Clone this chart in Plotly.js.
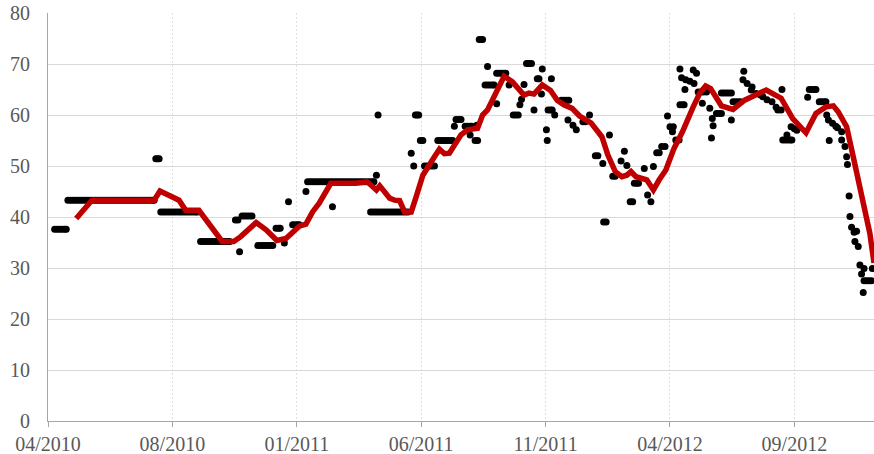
<!DOCTYPE html>
<html>
<head>
<meta charset="utf-8">
<script src="https://cdn.plot.ly/plotly-3.0.1.min.js"></script>
<style>html,body{margin:0;padding:0;background:#fff;}#chart{width:874px;height:454px;}</style>
</head>
<body>
<div id="chart"></div>
<script>
// Daily observations (black dots)
const dotDates = [
  '2010-04-09','2010-04-12','2010-04-15','2010-04-18','2010-04-21','2010-04-23',
  '2010-04-25','2010-04-28','2010-05-01','2010-05-04','2010-05-07','2010-05-10','2010-05-13','2010-05-16','2010-05-19','2010-05-22','2010-05-25','2010-05-28',
  '2010-05-31','2010-06-03','2010-06-06','2010-06-09','2010-06-12','2010-06-15','2010-06-18','2010-06-21','2010-06-24','2010-06-27','2010-06-30','2010-07-03',
  '2010-07-06','2010-07-09','2010-07-12','2010-07-15','2010-07-18','2010-07-21','2010-07-24','2010-07-27','2010-07-30','2010-08-02','2010-08-05','2010-08-07',
  '2010-08-09','2010-08-11','2010-08-13',
  '2010-08-15','2010-08-18','2010-08-21','2010-08-24','2010-08-27','2010-08-30','2010-09-02','2010-09-05',
  '2010-09-08','2010-09-11','2010-09-14','2010-09-17','2010-09-20','2010-09-23','2010-09-26','2010-09-28',
  '2010-10-02','2010-10-05','2010-10-08','2010-10-11','2010-10-14','2010-10-17','2010-10-20','2010-10-23','2010-10-26','2010-10-29','2010-11-01','2010-11-04','2010-11-06',
  '2010-11-13','2010-11-16','2010-11-18',
  '2010-11-21','2010-11-24','2010-11-27','2010-11-30','2010-12-03',
  '2010-12-10','2010-12-13','2010-12-16','2010-12-19','2010-12-22','2010-12-25','2010-12-28',
  '2011-01-01','2011-01-04','2011-01-06','2011-01-11','2011-01-16',
  '2011-01-21','2011-01-24','2011-01-27','2011-01-29','2011-02-06',
  '2011-02-08','2011-02-11','2011-02-14','2011-02-17','2011-02-20','2011-02-23','2011-02-26','2011-03-01','2011-03-04','2011-03-07','2011-03-10','2011-03-13','2011-03-16','2011-03-19',
  '2011-03-22','2011-03-25','2011-03-28','2011-03-31','2011-04-03','2011-04-06','2011-04-09','2011-04-12','2011-04-15','2011-04-18','2011-04-21','2011-04-24','2011-04-27','2011-04-29',
  '2011-03-10','2011-05-02','2011-05-04',
  '2011-04-25','2011-04-28','2011-05-01','2011-05-04','2011-05-07','2011-05-10','2011-05-13','2011-05-16',
  '2011-05-19','2011-05-22','2011-05-25','2011-05-28','2011-05-31','2011-06-03','2011-06-06','2011-06-09',
  '2011-06-13','2011-06-16','2011-06-18','2011-06-20','2011-06-22','2011-06-24','2011-06-27',
  '2011-06-29','2011-07-02','2011-07-05','2011-07-08','2011-07-11',
  '2011-07-15','2011-07-18','2011-07-21','2011-07-24','2011-07-27','2011-07-30','2011-08-02',
  '2011-08-04','2011-08-06','2011-08-09','2011-08-12',
  '2011-08-17','2011-08-20','2011-08-23','2011-08-25','2011-08-23','2011-08-29','2011-09-01','2011-08-31',
  '2011-09-03','2011-09-05','2011-09-07','2011-09-13',
  '2011-09-10','2011-09-13','2011-09-16','2011-09-19','2011-09-21',
  '2011-09-24','2011-09-27','2011-09-30','2011-10-03','2011-10-05','2011-09-24','2011-10-09',
  '2011-10-14','2011-10-17','2011-10-20','2011-10-22','2011-10-24','2011-10-27',
  '2011-10-30','2011-11-01','2011-11-03','2011-11-05',
  '2011-11-08','2011-11-12','2011-11-14','2011-11-17','2011-11-18',
  '2011-11-23','2011-11-24','2011-11-25','2011-11-28','2011-11-30','2011-11-29','2011-12-03',
  '2011-12-11','2011-12-14','2011-12-17','2011-12-20','2011-12-19','2011-12-25','2011-12-29',
  '2012-01-06','2012-01-09','2012-01-14','2012-01-21','2012-01-24','2012-01-30',
  '2012-01-31','2012-02-03','2012-02-07','2012-02-11','2012-02-14',
  '2012-02-21','2012-02-25','2012-02-28','2012-03-03','2012-03-06','2012-03-08','2012-03-11','2012-03-13',
  '2012-03-20','2012-03-24','2012-03-28','2012-03-31',
  '2012-04-04','2012-04-07','2012-04-10','2012-04-14','2012-04-17',
  '2012-04-20','2012-04-24','2012-04-23','2012-04-27','2012-05-01',
  '2012-05-02','2012-05-05','2012-05-07','2012-05-02',
  '2012-05-04','2012-05-09','2012-05-14','2012-05-19','2012-05-08',
  '2012-05-18','2012-05-22','2012-05-24','2012-05-27','2012-05-30','2012-06-03',
  '2012-05-29','2012-06-07','2012-06-09','2012-06-10','2012-06-11',
  '2012-06-15','2012-06-18','2012-06-21','2012-06-21','2012-06-24','2012-06-27','2012-06-30','2012-07-03','2012-07-03',
  '2012-07-05','2012-07-08','2012-07-11','2012-07-14','2012-07-18',
  '2012-07-17','2012-07-22','2012-07-28',
  '2012-07-27','2012-08-02','2012-08-07',
  '2012-08-10','2012-08-15','2012-08-21','2012-08-26',
  '2012-09-02','2012-08-28','2012-09-01',
  '2012-09-03','2012-09-06','2012-09-09','2012-09-12','2012-09-14','2012-09-08','2012-09-13','2012-09-17','2012-09-20',
  '2012-10-05','2012-10-08','2012-10-11','2012-10-13','2012-10-03',
  '2012-10-17','2012-10-20','2012-10-23','2012-10-25','2012-10-26',
  '2012-10-28','2012-11-02','2012-11-06','2012-10-29',
  '2012-11-08','2012-11-13','2012-11-13','2012-11-17',
  '2012-11-19','2012-11-20','2012-11-22','2012-11-23',
  '2012-11-25','2012-11-28','2012-12-01','2012-11-29','2012-12-03',
  '2012-12-05','2012-12-10','2012-12-07','2012-12-09',
  '2012-12-10','2012-12-13','2012-12-16','2012-12-19','2012-12-20'
];
const dotValues = [
  37.6,37.6,37.6,37.6,37.6,37.6,
  43.3,43.3,43.3,43.3,43.3,43.3,43.3,43.3,43.3,43.3,43.3,43.3,
  43.3,43.3,43.3,43.3,43.3,43.3,43.3,43.3,43.3,43.3,43.3,43.3,
  43.3,43.3,43.3,43.3,43.3,43.3,43.3,43.3,43.3,43.3,43.3,43.3,
  51.4,51.4,51.4,
  41.0,41.0,41.0,41.0,41.0,41.0,41.0,41.0,
  41.0,41.0,41.0,41.0,41.0,41.0,41.0,41.0,
  35.2,35.2,35.2,35.2,35.2,35.2,35.2,35.2,35.2,35.2,35.2,35.2,35.2,
  39.4,39.4,33.2,
  40.2,40.2,40.2,40.2,40.2,
  34.4,34.4,34.4,34.4,34.4,34.4,34.4,
  37.8,37.8,37.8,34.9,43.0,
  38.5,38.5,38.5,38.5,45.0,
  46.9,46.9,46.9,46.9,46.9,46.9,46.9,46.9,46.9,46.9,46.9,46.9,46.9,46.9,
  46.9,46.9,46.9,46.9,46.9,46.9,46.9,46.9,46.9,46.9,46.9,46.9,46.9,46.9,
  42.0,48.2,60.0,
  41.0,41.0,41.0,41.0,41.0,41.0,41.0,41.0,
  41.0,41.0,41.0,41.0,41.0,41.0,41.0,41.0,
  52.5,50.0,60.0,60.0,60.0,55.0,55.0,
  50.0,50.0,50.0,50.0,50.0,
  55.0,55.0,55.0,55.0,55.0,55.0,55.0,
  57.8,59.1,59.1,59.1,
  57.8,57.8,57.8,57.8,56.1,55.0,55.0,58.0,
  74.8,74.8,74.8,69.5,
  65.9,65.9,65.9,65.9,65.9,
  68.2,68.2,68.2,68.2,68.2,62.2,65.9,
  60.0,60.0,60.0,62.0,63.1,66.0,
  70.1,70.1,70.1,70.1,
  61.0,67.1,67.1,64.1,69.0,
  57.1,55.0,61.0,61.0,61.0,67.1,60.0,
  62.9,62.9,62.9,62.9,59.0,58.0,57.1,
  58.7,58.7,60.0,52.0,52.0,50.5,
  39.0,39.0,56.1,48.0,48.0,
  51.0,52.9,50.1,43.0,43.0,46.6,46.6,46.6,
  49.5,44.3,43.0,49.9,
  52.6,52.6,53.8,53.8,59.8,
  57.7,57.7,56.7,55.1,55.1,
  62.0,62.0,62.0,69.0,
  67.3,66.9,66.6,66.2,65.0,
  68.8,68.2,64.5,64.5,64.5,64.5,
  62.3,61.3,55.5,59.3,57.9,
  60.3,60.3,60.3,64.3,64.3,64.3,64.3,64.3,59.0,
  62.6,62.6,62.6,62.6,68.6,
  66.9,66.2,65.5,
  64.9,64.2,63.9,
  63.6,63.0,62.6,61.5,
  65.0,61.0,61.0,
  55.1,55.1,55.1,55.1,55.1,56.1,57.7,57.3,57.0,
  65.0,65.0,65.0,65.0,63.5,
  62.6,62.6,62.6,62.6,60.0,
  59.0,58.4,57.8,55.0,
  57.5,56.7,55.1,53.8,
  51.8,50.3,44.1,40.1,
  38.0,37.0,37.2,35.2,34.2,
  30.6,29.9,28.8,25.2,
  27.5,27.5,27.5,27.5,29.9
];

// Moving average (red line)
const lineDates = [
  '2010-05-05','2010-05-24','2010-08-07','2010-08-14','2010-09-06','2010-09-14','2010-09-30','2010-10-28','2010-11-11','2010-11-19',
  '2010-12-08','2010-12-20','2011-01-02','2011-01-13','2011-01-29','2011-02-06','2011-02-14','2011-02-22','2011-03-08','2011-04-07',
  '2011-04-21','2011-05-02','2011-05-06','2011-05-18','2011-05-24','2011-05-30','2011-06-05','2011-06-13','2011-06-19','2011-06-27',
  '2011-07-11','2011-07-17','2011-07-23','2011-07-29','2011-08-12','2011-08-20','2011-09-01','2011-09-07','2011-09-13','2011-10-03',
  '2011-10-13','2011-10-27','2011-11-02','2011-11-08','2011-11-18','2011-11-28','2011-12-06','2011-12-14','2011-12-24','2012-01-02',
  '2012-01-16','2012-01-29','2012-02-05','2012-02-14','2012-02-22','2012-02-28','2012-03-04','2012-03-10','2012-03-23','2012-03-31',
  '2012-04-07','2012-04-15','2012-04-25','2012-05-05','2012-05-18','2012-05-26','2012-06-02','2012-06-08','2012-06-21','2012-07-05',
  '2012-07-19','2012-08-02','2012-08-14','2012-09-01','2012-09-15','2012-10-01','2012-10-13','2012-10-25','2012-11-03','2012-11-09',
  '2012-11-19','2012-11-27','2012-12-09','2012-12-17','2012-12-22'
];
const lineValues = [
  39.7,43.3,43.3,45.1,43.3,41.3,41.3,35.2,35.2,36.1,
  38.9,37.5,35.4,35.8,38.2,38.6,41.0,42.7,46.6,46.6,
  46.9,45.3,46.1,43.7,43.3,43.2,41.0,41.0,44.0,48.2,
  51.8,53.3,52.4,52.5,56.1,57.1,57.4,60.0,61.0,67.6,
  66.5,63.9,64.3,64.1,65.9,64.8,62.9,62.0,61.3,59.8,
  58.4,55.7,52.2,48.9,47.9,48.2,48.9,47.9,47.3,45.3,
  47.3,49.2,53.5,56.7,61.6,64.3,65.7,65.2,61.8,61.1,
  62.9,63.9,64.9,63.3,59.3,56.5,60.3,61.6,61.8,60.6,
  57.7,51.8,43.3,36.8,31.0
];

// Axis ticks
const xTickVals = ['2010-04-01','2010-08-29','2011-01-26','2011-06-25','2011-11-22','2012-04-20','2012-09-17'];
const xTickText = ['04/2010','08/2010','01/2011','06/2011','11/2011','04/2012','09/2012'];
const xRange = ['2010-04-01','2012-12-22'];
const yRange = [0, 80];

const tickFont = {family: 'Liberation Serif, serif', size: 20, color: '#595959'};

const traces = [
  {
    type: 'scatter', mode: 'markers', x: dotDates, y: dotValues,
    marker: {color: '#000000', size: 7, line: {width: 0}},
    hoverinfo: 'skip', showlegend: false
  },
  {
    type: 'scatter', mode: 'lines', x: lineDates, y: lineValues,
    line: {color: '#c00000', width: 5.5},
    hoverinfo: 'skip', showlegend: false
  }
];

const layout = {
  width: 874, height: 454,
  margin: {l: 48, r: 0, t: 13, b: 33, pad: 0},
  paper_bgcolor: '#ffffff', plot_bgcolor: '#ffffff',
  showlegend: false,
  xaxis: {
    type: 'date', range: xRange,
    tickmode: 'array', tickvals: xTickVals, ticktext: xTickText,
    showgrid: true, gridcolor: '#e0e0e0', griddash: '2px,2px', gridwidth: 1,
    ticks: 'outside', ticklen: 5, tickcolor: '#a6a6a6', tickwidth: 1,
    showline: true, linecolor: '#a6a6a6', linewidth: 1,
    zeroline: false, tickfont: tickFont, fixedrange: true
  },
  yaxis: {
    range: yRange, tickmode: 'linear', tick0: 0, dtick: 10,
    showgrid: true, gridcolor: '#d9d9d9', gridwidth: 1,
    ticks: '', showline: true, linecolor: '#a6a6a6', linewidth: 1,
    zeroline: false, tickfont: tickFont, ticklabelstandoff: 13, fixedrange: true
  }
};

Plotly.newPlot('chart', traces, layout, {staticPlot: true, displayModeBar: false});
</script>
</body>
</html>
